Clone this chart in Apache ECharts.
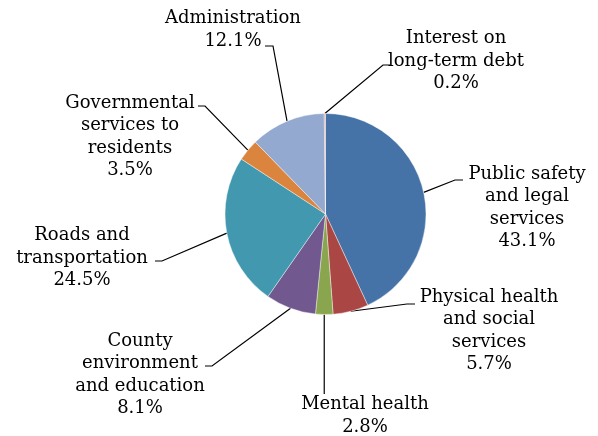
<!DOCTYPE html>
<html>
<head>
<meta charset="utf-8">
<script src="https://cdn.jsdelivr.net/npm/echarts@6/dist/echarts.min.js"></script>
<style>html,body{margin:0;padding:0;background:#fff;}#c{width:598px;height:436px;}</style>
</head>
<body>
<div id="c"></div>
<script>
var categories = [
  "Public safety\nand legal\nservices",
  "Physical health\nand social\nservices",
  "Mental health",
  "County\nenvironment\nand education",
  "Roads and\ntransportation",
  "Governmental\nservices to\nresidents",
  "Administration",
  "Interest on\nlong-term debt"
];
var values = [43.1, 5.7, 2.8, 8.1, 24.5, 3.5, 12.1, 0.2];
var colors = ["#4572A7", "#AA4643", "#89A54E", "#71588F", "#4198AF", "#DB843D", "#93A9CF", "#D19392"];

// label placement: label centre (x,y), elbow point, line end
var labelPlace = [
  {x: 527, y: 208, elbow: [455, 180], end: [463, 180]},
  {x: 489, y: 331, elbow: [407, 304], end: [415, 304]},
  {x: 365, y: 416, elbow: null, end: [324, 394]},
  {x: 140, y: 375, elbow: [212, 366], end: [205, 366]},
  {x: 82, y: 258, elbow: [162, 261], end: [155, 261]},
  {x: 130, y: 137, elbow: [205, 106], end: [198, 106]},
  {x: 233, y: 30, elbow: [273, 46], end: [265, 46]},
  {x: 456, y: 61, elbow: [383, 65], end: [390, 65]}
];

var data = categories.map(function (c, i) {
  return {name: c, value: values[i], itemStyle: {color: colors[i]}};
});

var chart = echarts.init(document.getElementById('c'), null, {renderer: 'canvas'});
chart.setOption({
  animation: false,
  backgroundColor: '#fff',
  series: [{
    type: 'pie',
    center: [325.5, 214],
    radius: [0, 100.5],
    startAngle: 90,
    clockwise: true,
    avoidLabelOverlap: false,
    data: data,
    itemStyle: {borderColor: 'rgba(255,255,255,0.7)', borderWidth: 0.6},
    label: {
      show: true,
      position: 'outside',
      formatter: function (p) { return p.name + '\n' + p.value.toFixed(1) + '%'; },
      fontFamily: 'DejaVu Serif',
      fontSize: 18,
      lineHeight: 22.5,
      color: '#000',
      align: 'center'
    },
    labelLine: {show: true, length: 10, length2: 10, lineStyle: {color: '#000', width: 1.2}},
    emphasis: {disabled: true},
    labelLayout: function (params) {
      var lp = labelPlace[params.dataIndex];
      var pts = params.labelLinePoints;
      var start = pts ? pts[0] : lp.end;
      var linePts = lp.elbow ? [start, lp.elbow, lp.end] : [start, [start[0], (start[1] + lp.end[1]) / 2], [start[0], lp.end[1]]];
      return {
        x: lp.x,
        y: lp.y,
        align: 'center',
        verticalAlign: 'middle',
        hideOverlap: false,
        labelLinePoints: linePts
      };
    }
  }]
});
</script>
</body>
</html>
